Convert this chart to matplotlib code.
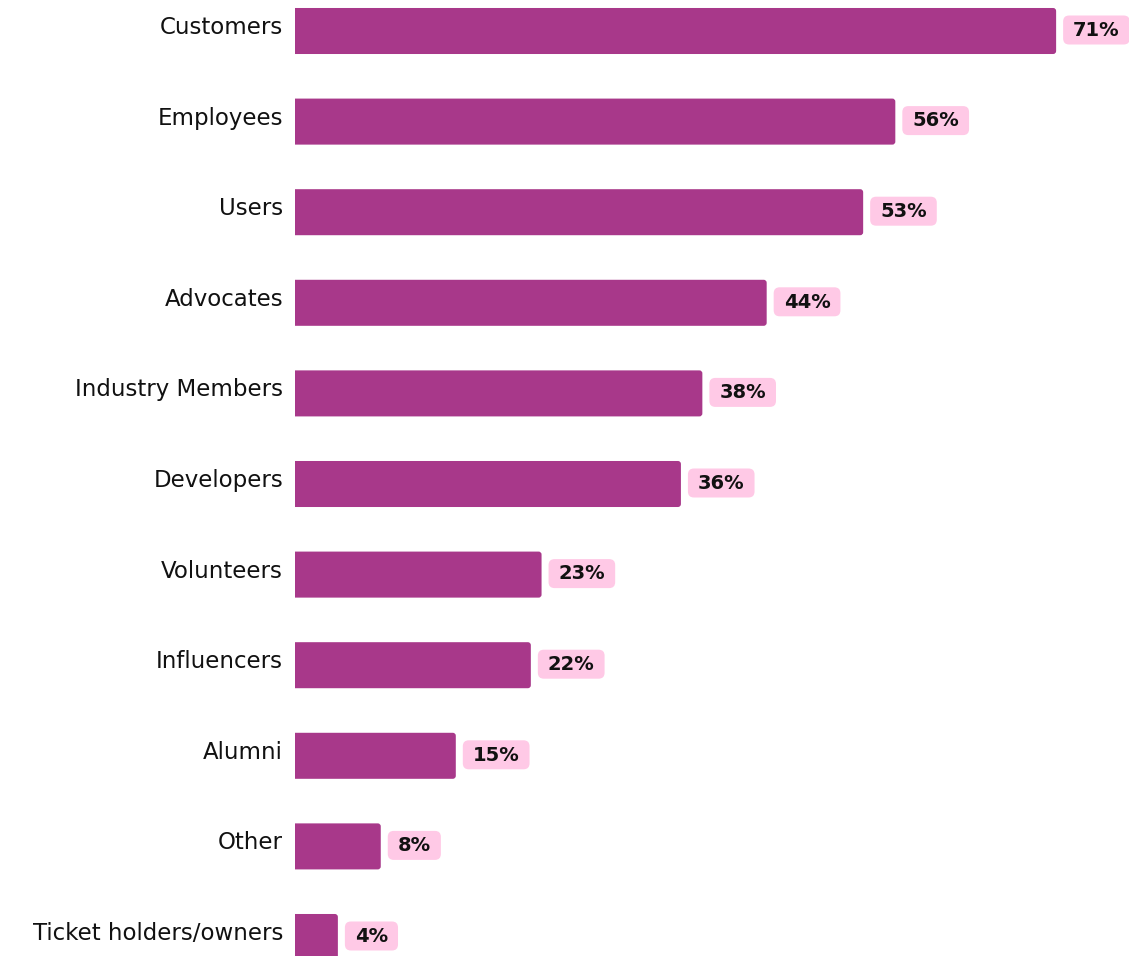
import matplotlib.pyplot as plt
from matplotlib.patches import FancyBboxPatch

# Survey results: who the community is made up of
categories = [
    "Customers", "Employees", "Users", "Advocates", "Industry Members",
    "Developers", "Volunteers", "Influencers", "Alumni", "Other",
    "Ticket holders/owners",
]
shares = [71, 56, 53, 44, 38, 36, 23, 22, 15, 8, 4]

bar_color = "#A8388A"
tag_color = "#FFC9E6"
text_color = "#111111"

plt.rcParams["font.family"] = ["DejaVu Sans"]

fig = plt.figure(figsize=(11.29, 9.56), dpi=100)
ax = fig.add_axes([295 / 1129, 0, 1 - 295 / 1129, 1])

px_x = 10.72   # pixels per percent
px_y = 90.6    # pixels per category row
ax.set_xlim(0, (1129 - 295) / px_x)
ax.set_ylim((956 - 31) / px_y, -31 / px_y)
ax.axis("off")

bars = ax.barh(range(len(categories)), shares, height=0.508, color="none")

# bars with rounded right ends; left corners are pushed past x=0 and clipped
r = 3.0
rx = r / px_x
for b in bars:
    ax.add_patch(FancyBboxPatch(
        (b.get_x() - rx, b.get_y()), b.get_width() + rx, b.get_height(),
        boxstyle=f"round,pad=0,rounding_size={rx}",
        mutation_aspect=(r / px_y) / rx,
        facecolor=bar_color, edgecolor="none"))

# category names, left of the bars
for i, cat in enumerate(categories):
    ax.text(-12 / px_x, i + 3 / px_y, cat, ha="right", va="baseline",
            fontsize=16.5, color=text_color, clip_on=False)

# percentage tags
fig.canvas.draw()
renderer = fig.canvas.get_renderer()
gap, padx, box_h, rr = 7, 10, 29, 6
rbx = rr / px_x
for i, v in enumerate(shares):
    left = v + gap / px_x
    cy = i - 1 / px_y
    t = ax.text(left + padx / px_x, cy + 5.8 / px_y, f"{v}%",
                ha="left", va="baseline", fontsize=14, fontweight="bold",
                color=text_color, zorder=4)
    w_px = t.get_window_extent(renderer).width
    ax.add_patch(FancyBboxPatch(
        (left, cy - box_h / 2 / px_y), (w_px + 2 * padx) / px_x, box_h / px_y,
        boxstyle=f"round,pad=0,rounding_size={rbx}",
        mutation_aspect=(rr / px_y) / rbx,
        facecolor=tag_color, edgecolor="none", zorder=3, clip_on=False))

fig.savefig("out.png", dpi=100)
